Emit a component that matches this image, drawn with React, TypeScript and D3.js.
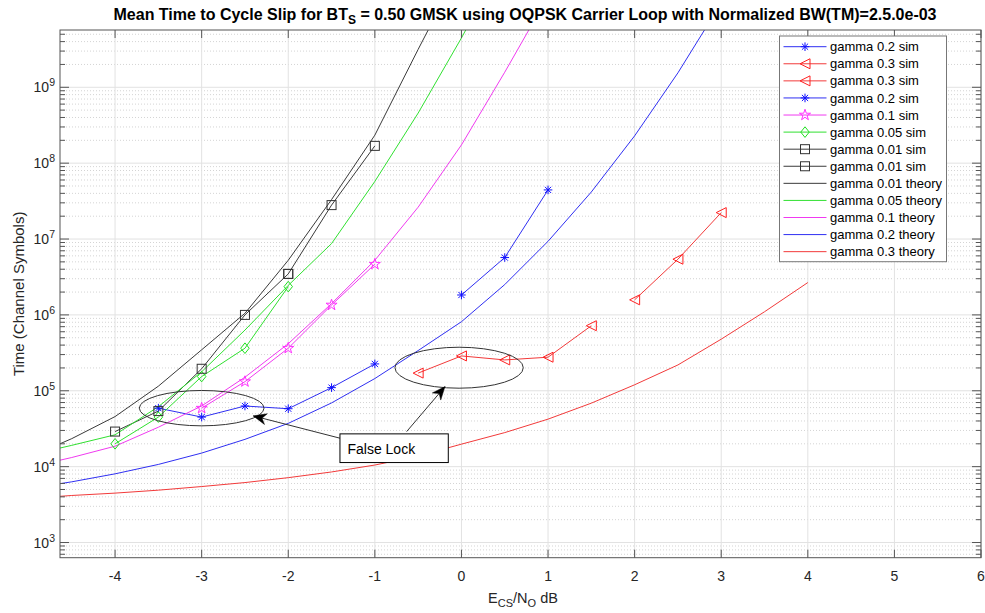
import React from 'react';
import * as d3 from 'd3';

const W = 985;
const H = 613;

// ---------- data ----------
const xTickValues = [-4, -3, -2, -1, 0, 1, 2, 3, 4, 5, 6];
const yDecades = [3, 4, 5, 6, 7, 8, 9];

// simulation series
const sim02aX = [-3.5, -3, -2.5, -2, -1.5, -1];
const sim02aY = [5.9e4, 4.5e4, 6.3e4, 5.8e4, 1.1e5, 2.26e5];
const sim03aX = [-0.5, 0, 0.5, 1, 1.5];
const sim03aY = [1.71e5, 2.88e5, 2.55e5, 2.77e5, 7.2e5];
const sim03bX = [2, 2.5, 3];
const sim03bY = [1.58e6, 5.42e6, 2.23e7];
const sim02bX = [0, 0.5, 1];
const sim02bY = [1.83e6, 5.7e6, 4.44e7];
const sim01X = [-3, -2.5, -2, -1.5, -1];
const sim01Y = [5.9e4, 1.32e5, 3.64e5, 1.35e6, 4.66e6];
const sim005X = [-4, -3.5, -3, -2.5, -2];
const sim005Y = [2.0e4, 4.5e4, 1.54e5, 3.64e5, 2.36e6];
const sim001aX = [-4, -3.5, -3, -2.5, -2];
const sim001aY = [2.9e4, 5.4e4, 1.95e5, 1.0e6, 3.47e6];
const sim001bX = [-2, -1.5, -1];
const sim001bY = [3.47e6, 2.8e7, 1.69e8];

// theory series (0.5 dB steps)
const th001X = [-5, -4.5, -4, -3.5, -3, -2.5, -2, -1.5, -1, -0.5, 0];
const th001Y = [1.32e4, 2.34e4, 4.57e4, 1.15e5, 3.47e5, 1.05e6, 5.25e6, 3.31e7, 2.34e8, 3.16e9, 3.98e10];
const th005X = [-5, -4.5, -4, -3.5, -3, -2.5, -2, -1.5, -1, -0.5, 0, 0.5];
const th005Y = [1.41e4, 1.91e4, 2.63e4, 6.17e4, 1.78e5, 6.31e5, 2.45e6, 8.71e6, 5.75e7, 4.57e8, 4.47e9, 5.01e10];
const th01X = [-5, -4.5, -4, -3.5, -3, -2.5, -2, -1.5, -1, -0.5, 0, 0.5, 1];
const th01Y = [9.77e3, 1.32e4, 1.86e4, 3.31e4, 6.31e4, 1.51e5, 4.17e5, 1.41e6, 5.25e6, 2.63e7, 1.74e8, 1.58e9, 1.58e10];
const th02X = [-5, -4.5, -4, -3.5, -3, -2.5, -2, -1.5, -1, -0.5, 0, 0.5, 1, 1.5, 2, 2.5, 3];
const th02Y = [5.13e3, 6.31e3, 8.04e3, 1.07e4, 1.51e4, 2.29e4, 3.72e4, 6.92e4, 1.45e5, 3.39e5, 8.13e5, 2.51e6, 9.33e6, 4.17e7, 2.29e8, 1.55e9, 1.29e10];
const th03X = [-5, -4.5, -4, -3.5, -3, -2.5, -2, -1.5, -1, -0.5, 0, 0.5, 1, 1.5, 2, 2.5, 3, 3.5, 4];
const th03Y = [3.8e3, 4.17e3, 4.48e3, 4.9e3, 5.47e3, 6.17e3, 7.16e3, 8.51e3, 1.05e4, 1.38e4, 1.98e4, 2.81e4, 4.23e4, 6.87e4, 1.2e5, 2.19e5, 4.79e5, 1.1e6, 2.67e6];

const legendLabels = [
  'gamma 0.2 sim', 'gamma 0.3 sim', 'gamma 0.3 sim', 'gamma 0.2 sim', 'gamma 0.1 sim',
  'gamma 0.05 sim', 'gamma 0.01 sim', 'gamma 0.01 sim', 'gamma 0.01 theory',
  'gamma 0.05 theory', 'gamma 0.1 theory', 'gamma 0.2 theory', 'gamma 0.3 theory',
];

// ---------- styling ----------
const BLUE = '#2f2ff2';
const RED = '#f23a3a';
const MAG = '#f03af0';
const GREEN = '#30e030';
const BLACK = '#3a3a3a';
const FONT = 'Liberation Sans, Arial, Helvetica, sans-serif';

type Marker = 'asterisk' | 'tri' | 'star' | 'diamond' | 'square' | 'none';
interface Series { x: number[]; y: number[]; color: string; marker: Marker; }

const series: Series[] = [
  { x: sim02aX, y: sim02aY, color: BLUE, marker: 'asterisk' },
  { x: sim03aX, y: sim03aY, color: RED, marker: 'tri' },
  { x: sim03bX, y: sim03bY, color: RED, marker: 'tri' },
  { x: sim02bX, y: sim02bY, color: BLUE, marker: 'asterisk' },
  { x: sim01X, y: sim01Y, color: MAG, marker: 'star' },
  { x: sim005X, y: sim005Y, color: GREEN, marker: 'diamond' },
  { x: sim001aX, y: sim001aY, color: BLACK, marker: 'square' },
  { x: sim001bX, y: sim001bY, color: BLACK, marker: 'square' },
  { x: th001X, y: th001Y, color: BLACK, marker: 'none' },
  { x: th005X, y: th005Y, color: GREEN, marker: 'none' },
  { x: th01X, y: th01Y, color: MAG, marker: 'none' },
  { x: th02X, y: th02Y, color: BLUE, marker: 'none' },
  { x: th03X, y: th03Y, color: RED, marker: 'none' },
];

const markerColor: Record<string, string> = {
  [BLUE]: '#1010ff', [RED]: '#ff2020', [MAG]: '#ff30ff', [GREEN]: '#20e020', [BLACK]: '#333333',
};

function MarkerShape({ kind, cx, cy, color }: { kind: Marker; cx: number; cy: number; color: string }) {
  const c = markerColor[color] || color;
  if (kind === 'asterisk') {
    const r = 4.3, d = r * 0.72;
    return (
      <g stroke={c} strokeWidth={1}>
        <line x1={cx - r} y1={cy} x2={cx + r} y2={cy} />
        <line x1={cx} y1={cy - r} x2={cx} y2={cy + r} />
        <line x1={cx - d} y1={cy - d} x2={cx + d} y2={cy + d} />
        <line x1={cx - d} y1={cy + d} x2={cx + d} y2={cy - d} />
      </g>
    );
  }
  if (kind === 'tri') {
    const r = 5;
    return <polygon points={`${cx - r},${cy} ${cx + r},${cy - r} ${cx + r},${cy + r}`} fill="none" stroke={c} strokeWidth={1} />;
  }
  if (kind === 'star') {
    const p = d3.symbol(d3.symbolStar, 38)();
    return <path d={p || ''} transform={`translate(${cx},${cy})`} fill="none" stroke={c} strokeWidth={1} />;
  }
  if (kind === 'diamond') {
    const r = 5.3;
    return <polygon points={`${cx},${cy - r} ${cx + r * 0.8},${cy} ${cx},${cy + r} ${cx - r * 0.8},${cy}`} fill="none" stroke={c} strokeWidth={1} />;
  }
  if (kind === 'square') {
    const r = 4.5;
    return <rect x={cx - r} y={cy - r} width={2 * r} height={2 * r} fill="none" stroke={c} strokeWidth={1} />;
  }
  return null;
}

export default function App() {
  const left = 60, right = 981, top = 30, bottom = 557.7;
  const x = d3.scaleLinear().domain([-4.636, 6]).range([left, right]);
  const y = d3.scaleLog().domain([Math.pow(10, 2.8), Math.pow(10, 9.755)]).range([bottom, top]);
  const [yMin, yMax] = y.domain();

  const line = (xs: number[], ys: number[]) =>
    d3.line<number>().x((_, i) => x(xs[i])).y((_, i) => y(ys[i]))(xs) || '';

  // minor y ticks
  const minor: number[] = [];
  for (let e = 2; e <= 9; e++) {
    for (let k = 2; k <= 9; k++) {
      const v = k * Math.pow(10, e);
      if (v > yMin && v < yMax) minor.push(v);
    }
  }
  const majors = yDecades.map((e) => Math.pow(10, e));

  // annotations in data units
  const ell1 = { cx: -3.0, cy: Math.pow(10, 4.771), rx: 0.72, ryDec: 0.233 };
  const ell2 = { cx: -0.027, cy: Math.pow(10, 5.304), rx: 0.741, ryDec: 0.27 };
  const box = { x0: -1.403, x1: -0.152, yTop: Math.pow(10, 4.432), yBot: Math.pow(10, 4.054) };
  const arrows = [
    { fx: -1.403, fy: Math.pow(10, 4.375), tx: -2.404, ty: Math.pow(10, 4.669) },
    { fx: -0.633, fy: Math.pow(10, 4.462), tx: -0.19, ty: Math.pow(10, 5.055) },
  ];
  const pxPerDec = (bottom - top) / (9.755 - 2.8);
  const pxPerUnit = (right - left) / (6 + 4.636);

  const arrowHead = (fx: number, fy: number, tx: number, ty: number) => {
    const dx = tx - fx, dy = ty - fy;
    const len = Math.hypot(dx, dy);
    const ux = dx / len, uy = dy / len;
    const px = -uy, py = ux;
    const L = 13, Wd = 5.5, back = 9;
    const bx = tx - ux * L, by = ty - uy * L;
    const mx = tx - ux * back, my = ty - uy * back;
    return `M${tx},${ty} L${bx + px * Wd},${by + py * Wd} L${mx},${my} L${bx - px * Wd},${by - py * Wd} Z`;
  };

  // legend geometry
  const lgX0 = 779.5, lgY0 = 36, lgW = 167, lgH = 225.7;
  const rowY = (i: number) => 46.7 + i * 17.08;

  return (
    <svg width={W} height={H} style={{ position: 'absolute', left: 0, top: 0, background: '#fff' }} fontFamily={FONT}>
      <defs>
        <clipPath id="plotclip">
          <rect x={left} y={top} width={right - left} height={bottom - top} />
        </clipPath>
      </defs>
      <rect x={0} y={0} width={W} height={H} fill="#ffffff" />
      <rect x={left} y={top} width={right - left} height={bottom - top} fill="#ffffff" />

      {/* grid */}
      <g>
        {minor.map((v) => (
          <line key={'mn' + v} x1={left} x2={right} y1={y(v)} y2={y(v)} stroke="#d4d4d4" strokeWidth={1} strokeDasharray="1,2" />
        ))}
        {majors.map((v) => (
          <line key={'mj' + v} x1={left} x2={right} y1={y(v)} y2={y(v)} stroke="#e2e2e2" strokeWidth={1} />
        ))}
        {xTickValues.map((v) => (
          <line key={'gx' + v} x1={x(v)} x2={x(v)} y1={top} y2={bottom} stroke="#e2e2e2" strokeWidth={1} />
        ))}
      </g>

      {/* data */}
      <g clipPath="url(#plotclip)">
        {series.map((s, i) => (
          <path key={'l' + i} d={line(s.x, s.y)} fill="none" stroke={s.color} strokeWidth={1} />
        ))}
        {series.map((s, i) =>
          s.marker === 'none'
            ? null
            : s.x.map((xv, j) => (
                <MarkerShape key={`m${i}-${j}`} kind={s.marker} cx={x(xv)} cy={y(s.y[j])} color={s.color} />
              ))
        )}
      </g>

      {/* annotations */}
      <g fill="none" stroke="#333" strokeWidth={1}>
        {[ell1, ell2].map((e, i) => (
          <ellipse key={'e' + i} cx={x(e.cx)} cy={y(e.cy)} rx={e.rx * pxPerUnit} ry={e.ryDec * pxPerDec} />
        ))}
      </g>
      {arrows.map((a, i) => {
        const fx = x(a.fx), fy = y(a.fy), tx = x(a.tx), ty = y(a.ty);
        return (
          <g key={'a' + i}>
            <line x1={fx} y1={fy} x2={tx} y2={ty} stroke="#333" strokeWidth={1} />
            <path d={arrowHead(fx, fy, tx, ty)} fill="#000" stroke="#000" strokeWidth={0.5} />
          </g>
        );
      })}
      <rect x={x(box.x0)} y={y(box.yTop)} width={x(box.x1) - x(box.x0)} height={y(box.yBot) - y(box.yTop)} fill="#fff" stroke="#000" strokeWidth={1} />
      <text x={x(box.x0) + 7.5} y={y(box.yBot) - 8.5} fontSize={14} fill="#000">False Lock</text>

      {/* axes box and ticks */}
      <rect x={left} y={top} width={right - left} height={bottom - top} fill="none" stroke="#555" strokeWidth={1} />
      <g stroke="#555" strokeWidth={1}>
        {xTickValues.map((v) => (
          <g key={'xt' + v}>
            <line x1={x(v)} x2={x(v)} y1={bottom} y2={bottom - 8} />
            <line x1={x(v)} x2={x(v)} y1={top} y2={top + 8} />
          </g>
        ))}
        {majors.map((v) => (
          <g key={'yt' + v}>
            <line x1={left} x2={left + 9} y1={y(v)} y2={y(v)} />
            <line x1={right} x2={right - 9} y1={y(v)} y2={y(v)} />
          </g>
        ))}
        {minor.map((v) => (
          <g key={'ymt' + v}>
            <line x1={left} x2={left + 5} y1={y(v)} y2={y(v)} />
            <line x1={right} x2={right - 5} y1={y(v)} y2={y(v)} />
          </g>
        ))}
      </g>

      {/* tick labels */}
      <g fontSize={14} fill="#262626">
        {xTickValues.map((v) => (
          <text key={'xl' + v} x={x(v)} y={581} textAnchor="middle">{String(v)}</text>
        ))}
        {yDecades.map((e) => (
          <text key={'yl' + e} x={55} y={y(Math.pow(10, e)) + 5} textAnchor="end">
            10<tspan fontSize={10.5} dy={-6}>{e}</tspan>
          </text>
        ))}
      </g>

      {/* axis labels */}
      <text x={523} y={603} textAnchor="middle" fontSize={14.5} fill="#262626">
        E<tspan fontSize={11} dy={4}>CS</tspan><tspan dy={-4}>/N</tspan><tspan fontSize={11} dy={4}>O</tspan><tspan dy={-4}> dB</tspan>
      </text>
      <text transform={`translate(24,${(top + bottom) / 2}) rotate(-90)`} textAnchor="middle" fontSize={15} fill="#262626">
        Time (Channel Symbols)
      </text>

      {/* title */}
      <text x={525} y={20} textAnchor="middle" fontSize={16} fontWeight="bold" fill="#000">
        Mean Time to Cycle Slip for BT<tspan fontSize={12} dy={4}>S</tspan><tspan dy={-4}> = 0.50 GMSK using OQPSK Carrier Loop with Normalized BW(TM)=2.5.0e-03</tspan>
      </text>

      {/* legend */}
      <rect x={lgX0} y={lgY0} width={lgW} height={lgH} fill="#fff" stroke="#777" strokeWidth={1} />
      {series.map((s, i) => (
        <g key={'lg' + i}>
          <line x1={783.5} x2={826.5} y1={rowY(i)} y2={rowY(i)} stroke={s.color} strokeWidth={1} />
          {s.marker !== 'none' && <MarkerShape kind={s.marker} cx={805} cy={rowY(i)} color={s.color} />}
          <text x={830} y={rowY(i) + 4.6} fontSize={13} fill="#000">{legendLabels[i]}</text>
        </g>
      ))}
    </svg>
  );
}
